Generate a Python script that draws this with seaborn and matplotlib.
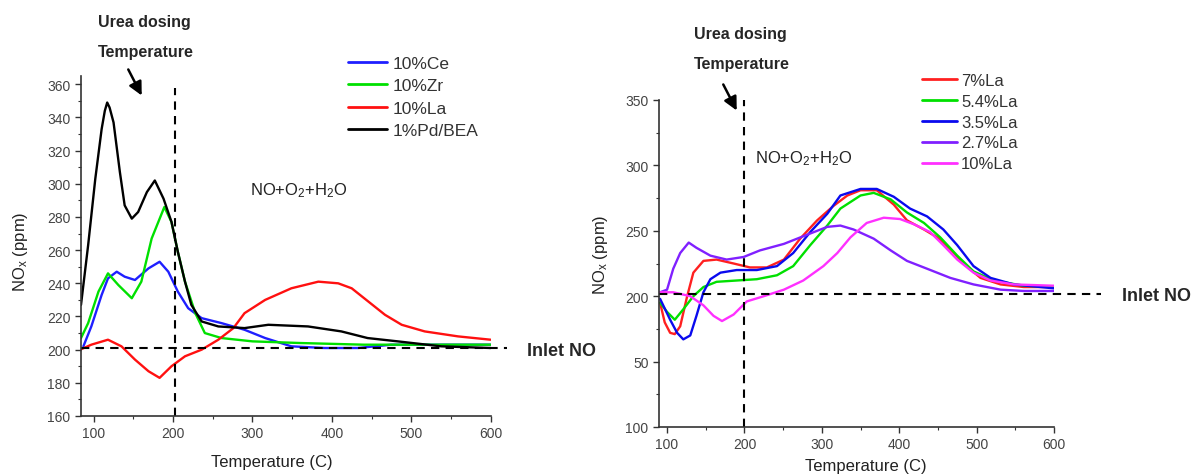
import numpy as np
import pandas as pd
import matplotlib
matplotlib.use('Agg')
import matplotlib.pyplot as plt
import seaborn as sns
from matplotlib.ticker import MultipleLocator, FixedLocator, FixedFormatter

# ---- left panel: promoted Pd/BEA samples ----
ce_t = [87, 97, 110, 118, 129, 139, 152, 169, 183, 194, 206, 219, 236, 261, 290, 316, 349, 391, 433, 475, 530, 600]
ce_v = [202, 214, 233, 243, 247, 244, 242, 249, 253, 247, 235, 225, 219, 216, 212, 207, 202, 201, 201, 203, 203, 203]
zr_t = [84, 93, 106, 118, 131, 148, 160, 173, 189, 198, 206, 215, 228, 240, 261, 300, 360, 440, 520, 600]
zr_v = [207, 216, 235, 246, 239, 231, 241, 267, 286, 277, 259, 241, 222, 210, 207, 205, 204, 203, 203, 203]
la_t = [83, 97, 118, 135, 152, 169, 183, 198, 215, 236, 257, 276, 290, 316, 349, 383, 408, 425, 446, 467, 488, 517, 559, 600]
la_v = [200, 203, 206, 202, 194, 187, 183, 190, 196, 200, 206, 213, 222, 230, 237, 241, 240, 237, 229, 221, 215, 211, 208, 206]
pd_t = [84, 93, 102, 110, 114, 117, 120, 125, 133, 139, 148, 156, 167, 177, 188, 198, 206, 215, 223, 236, 257, 290, 320, 370, 412, 445, 483, 538, 600]
pd_v = [227, 263, 303, 333, 344, 349, 346, 337, 307, 287, 279, 283, 295, 302, 291, 277, 259, 241, 227, 217, 214, 213, 215, 214, 211, 207, 205, 202, 201]
left_names = ['10%Ce', '10%Zr', '10%La', '1%Pd/BEA']
left_colors = ['#1f1fff', '#00e000', '#ff1010', '#000000']

# ---- right panel: La loading ----
la7_t = [91, 97, 104, 110, 117, 126, 134, 147, 164, 186, 207, 229, 251, 272, 294, 315, 333, 350, 371, 393, 410, 432, 449, 466, 483, 505, 531, 561, 600]
la7_v = [195, 180, 172, 171, 177, 200, 218, 227, 228, 225, 222, 222, 228, 244, 258, 269, 277, 281, 281, 270, 258, 251, 245, 236, 225, 214, 209, 207, 207]
la54_t = [91, 100, 110, 121, 134, 147, 164, 190, 216, 242, 263, 285, 307, 324, 350, 367, 389, 410, 432, 453, 475, 496, 522, 561, 600]
la54_v = [195, 188, 182, 190, 200, 207, 211, 212, 213, 216, 223, 239, 254, 267, 277, 279, 274, 264, 256, 245, 231, 219, 212, 208, 207]
la35_t = [91, 104, 113, 121, 130, 138, 147, 156, 169, 190, 216, 242, 263, 285, 307, 324, 350, 371, 393, 414, 436, 457, 475, 496, 518, 548, 600]
la35_v = [198, 182, 172, 167, 170, 185, 203, 213, 218, 220, 220, 223, 233, 249, 263, 277, 282, 282, 276, 267, 261, 251, 239, 223, 214, 209, 206]
la27_t = [91, 100, 108, 117, 128, 138, 156, 177, 199, 220, 251, 281, 307, 324, 341, 367, 389, 410, 436, 466, 496, 531, 561, 600]
la27_v = [203, 205, 221, 233, 241, 237, 231, 228, 230, 235, 240, 247, 253, 254, 251, 244, 235, 227, 221, 214, 209, 205, 204, 204]
la10_t = [91, 108, 130, 147, 160, 171, 186, 203, 225, 251, 276, 302, 320, 337, 358, 380, 401, 419, 440, 457, 475, 496, 518, 548, 600]
la10_v = [203, 203, 200, 193, 185, 181, 186, 196, 200, 205, 212, 223, 233, 245, 256, 260, 259, 255, 249, 239, 228, 218, 212, 209, 208]
right_names = ['7%La', '5.4%La', '3.5%La', '2.7%La', '10%La']
right_colors = ['#ff2020', '#00e000', '#0a0aee', '#8020ff', '#ff30ff']

right_yticks = [100, 150, 200, 250, 300, 350]
right_ylabels = ['100', '50', '200', '250', '300', '350']

inlet_left, inlet_right = 201, 202
urea_left, urea_right = 202, 200


def long_df(ts, vs, names):
    parts = [pd.DataFrame({'T': t, 'NOx': v, 'sample': n}) for t, v, n in zip(ts, vs, names)]
    return pd.concat(parts, ignore_index=True)


left_df = long_df([ce_t, zr_t, la_t, pd_t], [ce_v, zr_v, la_v, pd_v], left_names)
right_df = long_df([la7_t, la54_t, la35_t, la27_t, la10_t],
                   [la7_v, la54_v, la35_v, la27_v, la10_v], right_names)

sns.set_style('ticks')
plt.rcParams['font.family'] = ['Liberation Sans', 'DejaVu Sans']
plt.rcParams['mathtext.default'] = 'regular'

W, H = 1195, 477
fig = plt.figure(figsize=(W / 100, H / 100), dpi=100)


def fx(px):
    return px / W


def fy(py):
    return 1 - py / H


ax1 = fig.add_axes([fx(81), fy(417), fx(490.6) - fx(81), fy(77) - fy(417)])
ax2 = fig.add_axes([fx(659), fy(428), fx(1054) - fx(659), fy(101) - fy(428)])

sns.lineplot(data=left_df, x='T', y='NOx', hue='sample', hue_order=left_names,
             palette=left_colors, sort=False, estimator=None, lw=1.7, ax=ax1)
sns.lineplot(data=right_df, x='T', y='NOx', hue='sample', hue_order=right_names,
             palette=right_colors, sort=False, estimator=None, lw=1.7, ax=ax2)

ax1.set_xlim(84, 600)
ax1.set_ylim(160, 365)
ax1.yaxis.set_major_locator(FixedLocator(list(range(160, 361, 20))))
ax1.yaxis.set_minor_locator(MultipleLocator(10))
ax1.xaxis.set_major_locator(MultipleLocator(100))
ax1.xaxis.set_minor_locator(MultipleLocator(50))

ax2.set_xlim(89.6, 600)
ax2.set_ylim(100, 350)
ax2.yaxis.set_major_locator(FixedLocator(right_yticks))
ax2.yaxis.set_major_formatter(FixedFormatter(right_ylabels))
ax2.yaxis.set_minor_locator(MultipleLocator(25))
ax2.xaxis.set_major_locator(MultipleLocator(100))
ax2.xaxis.set_minor_locator(MultipleLocator(50))

dash = (0, (4, 3))
for ax, inlet, urea, xext, ytop in [(ax1, inlet_left, urea_left, 1.04, 0.965),
                                      (ax2, inlet_right, urea_right, 1.12, 1.0)]:
    sns.despine(ax=ax)
    ax.axhline(inlet, xmin=0, xmax=xext, color='k', lw=1.5, ls=dash, clip_on=False)
    ax.axvline(urea, ymin=0, ymax=ytop, color='k', lw=1.5, ls=dash, clip_on=False)
    for s in ['left', 'bottom']:
        ax.spines[s].set_color('#333333')
        ax.spines[s].set_linewidth(1.2)
    ax.tick_params(which='major', direction='out', length=4, width=1, colors='#333333',
                   labelsize=10, labelcolor='#444444')
    ax.tick_params(which='minor', direction='out', length=2.5, width=0.8, colors='#333333')
    ax.set_xlabel('')
    ax.set_ylabel('')

sns.move_legend(ax1, 'upper left', bbox_to_anchor=(fx(348), fy(57)), bbox_transform=fig.transFigure,
                frameon=False, title=None, fontsize=12.5, handlelength=2.25, handletextpad=0.3,
                labelspacing=0.41, borderpad=0, borderaxespad=0)
sns.move_legend(ax2, 'upper left', bbox_to_anchor=(fx(922), fy(74)), bbox_transform=fig.transFigure,
                frameon=False, title=None, fontsize=12, handlelength=2.1, handletextpad=0.25,
                labelspacing=0.35, borderpad=0, borderaxespad=0)
for ax in (ax1, ax2):
    for ln in ax.get_legend().get_lines():
        ln.set_linewidth(2)
    for t in ax.get_legend().get_texts():
        t.set_color('#333333')

# axis titles
fig.text(fx(272), fy(463), 'Temperature (C)', ha='center', va='center', fontsize=12, color='#222222')
fig.text(fx(866), fy(467), 'Temperature (C)', ha='center', va='center', fontsize=12, color='#222222')
fig.text(fx(20), fy(252), 'NO$_x$ (ppm)', ha='center', va='center', rotation=90, fontsize=12, color='#222222')
fig.text(fx(600), fy(255), 'NO$_x$ (ppm)', ha='center', va='center', rotation=90, fontsize=12, color='#222222')

# annotations
for x0, y0, y1 in [(98, 23, 52), (694, 35, 64)]:
    fig.text(fx(x0), fy(y0), 'Urea dosing', ha='left', va='center', fontsize=11.5, weight='bold')
    fig.text(fx(x0), fy(y1), 'Temperature', ha='left', va='center', fontsize=11.5, weight='bold')
for tail, head in [((127, 68), (143, 99)), ((722, 83), (738, 114))]:
    fig.add_artist(matplotlib.patches.FancyArrowPatch(
        (fx(tail[0]), fy(tail[1])), (fx(head[0]), fy(head[1])), transform=fig.transFigure,
        arrowstyle='-|>', mutation_scale=20, lw=1.8, color='k'))
fig.text(fx(250), fy(191), 'NO+O$_2$+H$_2$O', ha='left', va='center', fontsize=12, color='#222222')
fig.text(fx(755), fy(159), 'NO+O$_2$+H$_2$O', ha='left', va='center', fontsize=12, color='#222222')
fig.text(fx(527), fy(352), 'Inlet NO', ha='left', va='center', fontsize=13, weight='bold')
fig.text(fx(1122), fy(297), 'Inlet NO', ha='left', va='center', fontsize=13, weight='bold')

fig.savefig('out.png', dpi=100)
